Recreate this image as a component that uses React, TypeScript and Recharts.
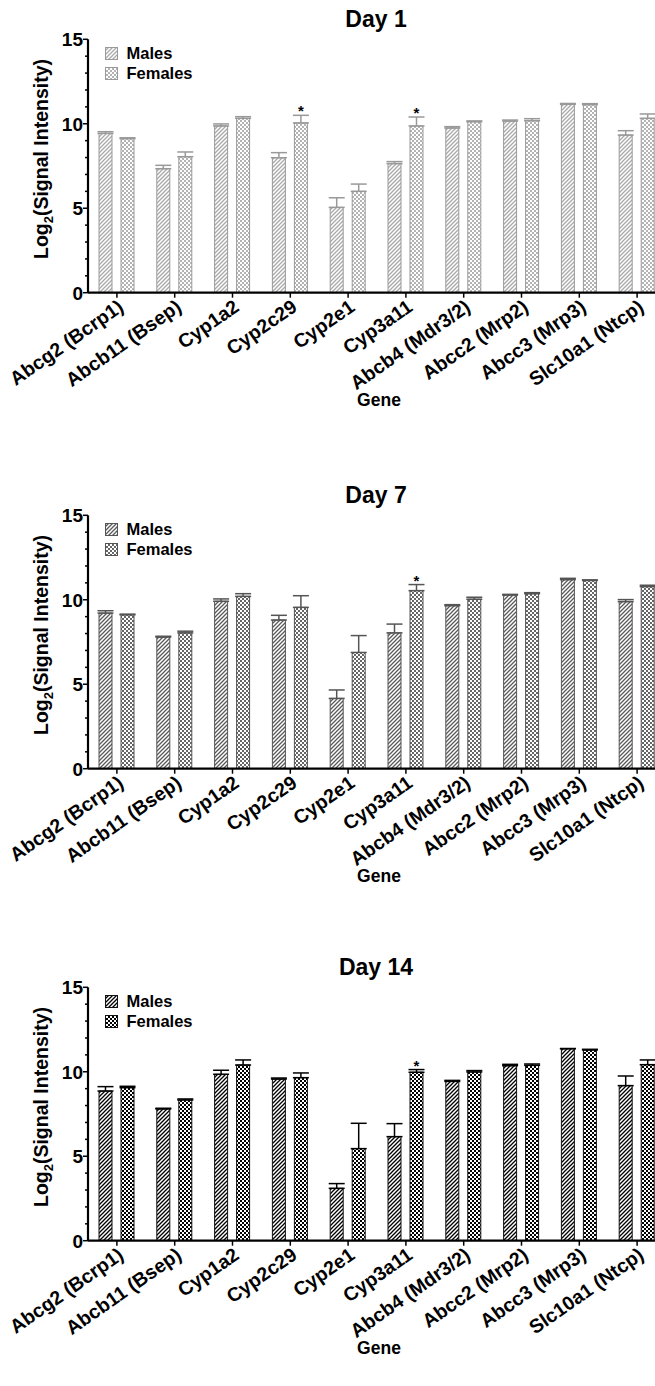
import React from 'react';
import { BarChart, Bar, XAxis, YAxis, ErrorBar, LabelList } from 'recharts';

const genes = ['Abcg2 (Bcrp1)', 'Abcb11 (Bsep)', 'Cyp1a2', 'Cyp2c29', 'Cyp2e1', 'Cyp3a11', 'Abcb4 (Mdr3/2)', 'Abcc2 (Mrp2)', 'Abcc3 (Mrp3)', 'Slc10a1 (Ntcp)'];
const yTicks = [0, 1, 2, 3, 4, 5, 6, 7, 8, 9, 10, 11, 12, 13, 14, 15];
const titles = ['Day 1', 'Day 7', 'Day 14'];

const day1Males = [9.43, 7.34, 9.87, 7.99, 5.05, 7.64, 9.75, 10.16, 11.15, 9.33];
const day1MalesErr = [0.1, 0.2, 0.12, 0.3, 0.57, 0.12, 0.08, 0.06, 0.05, 0.26];
const day1Females = [9.12, 8.05, 10.32, 10.05, 6.0, 9.87, 10.12, 10.18, 11.13, 10.32];
const day1FemalesErr = [0.05, 0.28, 0.1, 0.45, 0.43, 0.53, 0.05, 0.12, 0.06, 0.26];
const day1Sig = [false, false, false, true, false, true, false, false, false, false];

const day7Males = [9.21, 7.79, 9.91, 8.8, 4.16, 8.04, 9.65, 10.28, 11.19, 9.89];
const day7MalesErr = [0.14, 0.05, 0.14, 0.28, 0.5, 0.52, 0.06, 0.04, 0.08, 0.12];
const day7Females = [9.11, 8.04, 10.2, 9.55, 6.88, 10.54, 10.03, 10.36, 11.14, 10.78];
const day7FemalesErr = [0.04, 0.1, 0.16, 0.69, 1.0, 0.36, 0.12, 0.06, 0.04, 0.08];
const day7Sig = [false, false, false, false, false, true, false, false, false, false];

const day14Males = [8.86, 7.8, 9.85, 9.57, 3.1, 6.16, 9.43, 10.36, 11.37, 9.18];
const day14MalesErr = [0.26, 0.04, 0.24, 0.06, 0.28, 0.77, 0.06, 0.08, 0.0, 0.57];
const day14Females = [9.06, 8.33, 10.4, 9.65, 5.45, 9.97, 9.99, 10.38, 11.29, 10.42];
const day14FemalesErr = [0.08, 0.06, 0.3, 0.28, 1.5, 0.16, 0.08, 0.08, 0.04, 0.28];
const day14Sig = [false, false, false, false, false, true, false, false, false, false];

const FONT = '"Liberation Sans", Arial, Helvetica, sans-serif';

const panelStyles = [
  { hatch: '#a9a9a9', check: '#b3b3b3', outline: '#9a9a9a', err: '#999999' },
  { hatch: '#5a5a5a', check: '#666666', outline: '#555555', err: '#555555' },
  { hatch: '#000000', check: '#000000', outline: '#111111', err: '#000000' },
];

const buildRows = (m: number[], me: number[], f: number[], fe: number[], sig: boolean[]) =>
  genes.map((g, i) => ({
    gene: g,
    males: m[i],
    females: f[i],
    mErr: [0, me[i]],
    fErr: [0, fe[i]],
    star: sig[i] ? fe[i] / f[i] : null,
  }));

const panels = [
  buildRows(day1Males, day1MalesErr, day1Females, day1FemalesErr, day1Sig),
  buildRows(day7Males, day7MalesErr, day7Females, day7FemalesErr, day7Sig),
  buildRows(day14Males, day14MalesErr, day14Females, day14FemalesErr, day14Sig),
];

const panelTops = [0, 475.5, 948];
const CH = 430;

const Patterns = () => (
  <svg width={0} height={0} style={{ position: 'absolute', left: 0, top: 0 }}>
    <defs>
      {panelStyles.map((s, i) => (
        <React.Fragment key={i}>
          <pattern id={`hatch${i}`} patternUnits="userSpaceOnUse" width={4} height={4}>
            <rect x={0} y={0} width={4} height={4} fill="#fff" />
            <path d="M-1,1 L1,-1 M0,4 L4,0 M3,5 L5,3" stroke={s.hatch} strokeWidth={1.3} />
          </pattern>
          <pattern id={`check${i}`} patternUnits="userSpaceOnUse" width={4} height={4}>
            <rect x={0} y={0} width={4} height={4} fill="#fff" />
            <rect x={0} y={0} width={2} height={2} fill={s.check} />
            <rect x={2} y={2} width={2} height={2} fill={s.check} />
          </pattern>
        </React.Fragment>
      ))}
    </defs>
  </svg>
);

const YTick = (props: any) => {
  const { x, y, payload } = props;
  const v = payload.value;
  const major = v % 5 === 0;
  return (
    <g>
      <line x1={x - (major ? 5 : 3)} x2={x} y1={y} y2={y} stroke="#000" strokeWidth={1.5} />
      {major && (
        <text x={x - 5} y={y} dy="0.36em" textAnchor="end" fontFamily={FONT} fontWeight="bold" fontSize={19} fill="#000">
          {v}
        </text>
      )}
    </g>
  );
};

const XTick = (props: any) => {
  const { x, y, payload } = props;
  return (
    <g transform={`translate(${x + 8},${y + 10})`}>
      <text x={0} y={0} textAnchor="end" transform="rotate(-35)" fontFamily={FONT} fontWeight="bold" fontSize={19.5} fill="#000">
        {payload.value}
      </text>
    </g>
  );
};

const makeStar = (color: string) => (props: any) => {
  const vb = props.viewBox || props;
  const { x, y, width, height } = vb;
  const value = props.value;
  if (value === null || value === undefined || x === undefined) return null;
  const top = y - value * height;
  return (
    <text x={x + width / 2} y={top + 1} textAnchor="middle" fontFamily={FONT} fontWeight="bold" fontSize={15} fill="#000">
      *
    </text>
  );
};

const Overlay = ({ idx }: { idx: number }) => {
  const s = panelStyles[idx];
  return (
    <svg width={655} height={CH} style={{ position: 'absolute', left: 0, top: 0, pointerEvents: 'none' }}>
      <text x={376} y={27} textAnchor="middle" fontFamily={FONT} fontWeight="bold" fontSize={23} fill="#000">
        {titles[idx]}
      </text>
      <g transform="translate(48,159) rotate(-90)">
        <text x={0} y={0} textAnchor="middle" fontFamily={FONT} fontWeight="bold" fontSize={19.5} fill="#000">
          Log<tspan fontSize={13} dy={5}>2</tspan>
          <tspan dy={-5}>(Signal Intensity)</tspan>
        </text>
      </g>
      <text x={379} y={406} textAnchor="middle" fontFamily={FONT} fontWeight="bold" fontSize={17.5} fill="#000">
        Gene
      </text>
      <rect x={105.5} y={47.5} width={12} height={12} fill={`url(#hatch${idx})`} stroke={s.outline} strokeWidth={1} />
      <text x={126.5} y={59} fontFamily={FONT} fontWeight="bold" fontSize={16.5} fill="#000">
        Males
      </text>
      <rect x={105.5} y={67.5} width={12} height={12} fill={`url(#check${idx})`} stroke={s.outline} strokeWidth={1} />
      <text x={126.5} y={79} fontFamily={FONT} fontWeight="bold" fontSize={16.5} fill="#000">
        Females
      </text>
    </svg>
  );
};

const Panel = ({ idx }: { idx: number }) => {
  const s = panelStyles[idx];
  return (
    <div style={{ position: 'absolute', left: 0, top: panelTops[idx], width: 670, height: CH }}>
      <BarChart
        width={670}
        height={CH}
        data={panels[idx]}
        margin={{ top: 39.3, right: 4, bottom: 0, left: 0 }}
        barGap={9}
      >
        <XAxis
          dataKey="gene"
          interval={0}
          height={CH - 39.3 - 253.4}
          axisLine={{ stroke: '#000', strokeWidth: 2.2 }}
          tickLine={{ stroke: '#000', strokeWidth: 1.5 }}
          tickSize={5}
          tickMargin={2}
          tick={<XTick />}
        />
        <YAxis
          width={88}
          domain={[0, 15]}
          ticks={yTicks}
          interval={0}
          allowDataOverflow
          axisLine={{ stroke: '#000', strokeWidth: 2.2 }}
          tickLine={false}
          tickSize={0}
          tickMargin={0}
          tick={<YTick />}
        />
        <Bar dataKey="males" barSize={13} fill={`url(#hatch${idx})`} stroke={s.outline} strokeWidth={1} isAnimationActive={false}>
          <ErrorBar dataKey="mErr" width={8} stroke={s.err} strokeWidth={1.5} />
        </Bar>
        <Bar dataKey="females" barSize={13} fill={`url(#check${idx})`} stroke={s.outline} strokeWidth={1} isAnimationActive={false}>
          <ErrorBar dataKey="fErr" width={8} stroke={s.err} strokeWidth={1.5} />
          <LabelList dataKey="star" content={makeStar(s.err)} />
        </Bar>
      </BarChart>
      <Overlay idx={idx} />
    </div>
  );
}

export default function App() {
  return (
    <div style={{ position: 'absolute', left: 0, top: 0, width: 655, height: 1386, overflow: 'hidden', background: '#fff' }}>
      <Patterns />
      <Panel idx={0} />
      <Panel idx={1} />
      <Panel idx={2} />
    </div>
  );
}
